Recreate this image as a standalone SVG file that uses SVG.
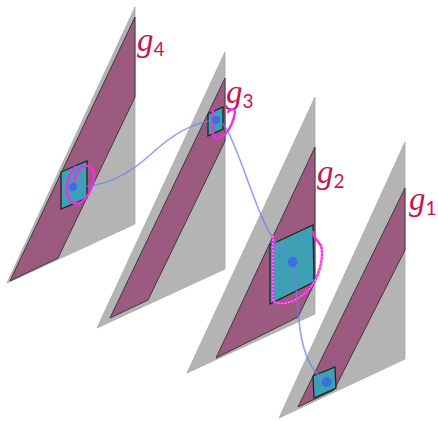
<svg xmlns="http://www.w3.org/2000/svg" width="438" height="421" viewBox="0 0 438 421">
<style>
.pane{fill:#b4b4b4;stroke:#a8a8a8;stroke-width:0.8}
.band{fill:#9c5a80;stroke:#3a3a3a;stroke-width:1}
.sq{fill:#3da0b5;stroke:#222;stroke-width:1.3}
.dot{fill:#3a6fe0}
.loop{fill:none;stroke:#f02ee0;stroke-width:2.4;stroke-linecap:round;stroke-linejoin:round}
.dash{fill:none;stroke:#fff;stroke-width:0.7;stroke-dasharray:1.5 2}
.curve{fill:none;stroke:#6f80f0;stroke-opacity:0.75;stroke-width:1.6}
.g{font-family:"Liberation Serif",serif;font-style:italic;font-size:33px;fill:#c8144f}
.sub{font-family:Lato,"Liberation Sans",sans-serif;font-size:19px;fill:#c8144f}
</style>
<g id="g4">
<path class="pane" d="M135,7 L135,224 L7,283 Z"/>
<path class="band" d="M135,17 L135,97 L58,258 L10,281 Z"/>
<path class="sq" d="M61,172 L87,161 L87,198 L61,209 Z"/>
<text x="137" y="51"><tspan class="g">g</tspan><tspan class="sub" dy="5">4</tspan></text>
</g>
<g id="g3">
<path class="pane" d="M225,52 L225,269 L97,328 Z"/>
<path class="band" d="M225,78 L225,141 L148,300 L110,318 Z"/>
<path class="sq" d="M208,114 L223,107 L223,129 L208,136 Z"/>
<text x="226" y="103"><tspan class="g">g</tspan><tspan class="sub" dy="5">3</tspan></text>
</g>
<g id="g2">
<path class="pane" d="M315,97 L315,314 L187,373 Z"/>
<path class="band" d="M315,147 L315,282 L298,317 L216,358 Z"/>
<path class="sq" d="M270,245 L313,225 L314,282 L270,304 Z"/>
<text x="317" y="183"><tspan class="g">g</tspan><tspan class="sub" dy="5">2</tspan></text>
</g>
<g id="g1">
<path class="pane" d="M405,142 L405,359 L279,418 Z"/>
<path class="band" d="M405,188 L405,250 L334,390 L298,407 Z"/>
<path class="sq" d="M313,376 L335,367 L336,388 L314,398 Z"/>
<text x="409" y="210"><tspan class="g">g</tspan><tspan class="sub" dy="5">1</tspan></text>
</g>
<g id="connectors">
<path class="curve" d="M73,187 C100,188 125,178 150,155 C175,132 195,122 216,120 C226,121 232,140 242,165 C252,192 262,222 274,240 C280,250 286,258 292.7,262 C297,280 297,320 302,340 C306,360 314,374 326.7,382"/>
</g>
<g id="loops">
<path class="loop" d="M75,167 C69,174 66,184 67,192 C68,201 73,205 79,203 C86,201 92,190 94,178 C95,169 90,165 85,166 C79,167 75,175 74,186"/>
<path class="loop" d="M213,108 L213,135 C214,139 219,139 224,135 C230,130 234,120 235,112 C235,108 231,108 228,112"/>
<path class="loop" d="M273,236 L273,300 C274,304 285,305 295,300 C306,294 314,285 318,274 C322,264 323,252 321,246 C319,242 316,240 314,236 L313,232"/>
<path class="dash" d="M273,236 L273,300 C274,304 285,305 295,300 C306,294 314,285 318,274 C322,264 323,252 321,246"/>
</g>
<g id="dots">
<circle class="dot" cx="73" cy="187" r="4"/>
<circle class="dot" cx="216" cy="120" r="4"/>
<circle class="dot" cx="292.7" cy="262" r="5"/>
<circle class="dot" cx="326.7" cy="382" r="5"/>
</g>
</svg>
